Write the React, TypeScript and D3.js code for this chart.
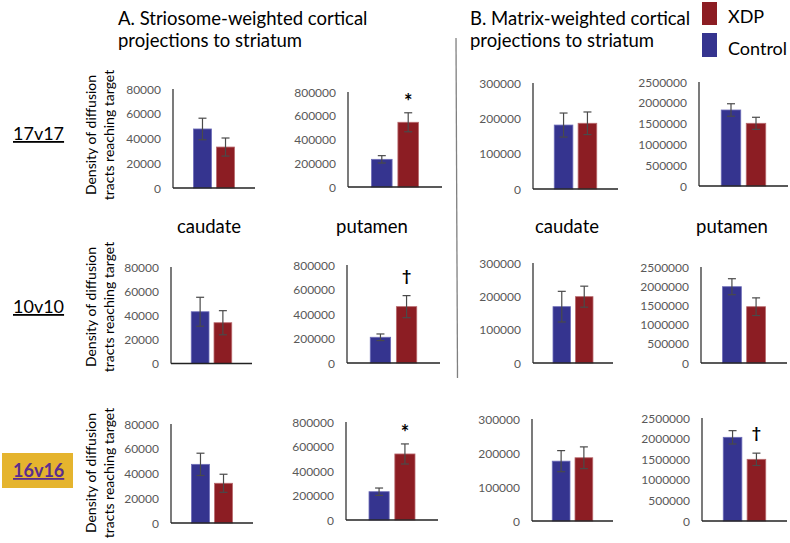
import React from "react";
import * as d3 from "d3";

// ---------- data ----------
const groups = ["Control", "XDP"];
const regionLabels = ["caudate", "putamen"];
const rowLabels = ["17v17", "10v10", "16v16"];

const striosomeCaudateControl = [47700, 42900, 47400];
const striosomeCaudateControlErr = [8700, 12000, 9000];
const striosomeCaudateXDP = [33100, 33800, 32100];
const striosomeCaudateXDPErr = [7300, 10000, 7300];

const striosomePutamenControl = [233000, 210000, 231000];
const striosomePutamenControlErr = [31000, 27000, 30000];
const striosomePutamenXDP = [545000, 460000, 539000];
const striosomePutamenXDPErr = [80000, 90000, 82000];

const matrixCaudateControl = [181000, 169000, 176000];
const matrixCaudateControlErr = [34000, 46000, 31000];
const matrixCaudateXDP = [186000, 199000, 186000];
const matrixCaudateXDPErr = [32000, 31500, 32000];

const matrixPutamenControl = [1827000, 1987000, 2031000];
const matrixPutamenControlErr = [150000, 208000, 162000];
const matrixPutamenXDP = [1507000, 1466000, 1497000];
const matrixPutamenXDPErr = [145000, 230000, 150000];

const striosomeCaudateTicks = [0, 20000, 40000, 60000, 80000];
const striosomePutamenTicks = [0, 200000, 400000, 600000, 800000];
const matrixCaudateTicks = [0, 100000, 200000, 300000];
const matrixPutamenTicks = [0, 500000, 1000000, 1500000, 2000000, 2500000];

// significance marks per row, per panel (A-caudate, A-putamen, B-caudate, B-putamen)
const significance = [
  ["", "*", "", ""],
  ["", "†", "", ""],
  ["", "*", "", "†"],
];

// ---------- layout ----------
const FONT = "Lato, 'Open Sans', sans-serif";
const BLUE = "#35348f";
const RED = "#8c1d23";

// [axisX, axisEndX, topY, zeroY] per row, per column
const panelRects = [
  [
    [173, 255, 89, 188],
    [348, 442, 92, 187],
    [533, 618, 83, 189],
    [699, 788, 82, 186],
  ],
  [
    [171, 252, 267, 363.5],
    [347, 440, 265, 363],
    [533, 613, 263, 363],
    [701, 787, 267, 363],
  ],
  [
    [171, 253, 424, 523],
    [346, 438, 422, 520],
    [532, 613, 419, 521],
    [702, 787, 418, 521],
  ],
];
const rowLabelBaselines = [140, 313, 477];
const yLabelCenters = [135, 307, 473];

type PanelProps = {
  rect: number[];
  ticks: number[];
  values: number[];
  errors: number[];
  mark: string;
};

function Panel({ rect, ticks, values, errors, mark }: PanelProps) {
  const [x0, x1, yTop, y0] = rect;
  const y = d3
    .scaleLinear()
    .domain([0, ticks[ticks.length - 1]])
    .range([y0, yTop]);
  const x = d3
    .scaleBand<string>()
    .domain(groups)
    .range([x0, x1])
    .paddingInner(0.22)
    .paddingOuter(0.89);
  const bw = x.bandwidth();
  const capW = 8;
  return (
    <g>
      {ticks.map((t) => (
        <text
          key={t}
          x={x0 - 12}
          y={y(t)}
          textAnchor="end"
          dominantBaseline="central"
          fontSize={12}
          fill="#595959"
          fontFamily={FONT}
        >
          {t}
        </text>
      ))}
      {groups.map((g, i) => {
        const bx = x(g)!;
        const v = values[i];
        const e = errors[i];
        const cx = bx + bw / 2;
        return (
          <g key={g}>
            <rect
              x={bx}
              y={y(v)}
              width={bw}
              height={y(0) - y(v)}
              fill={i === 0 ? BLUE : RED}
              stroke={i === 0 ? "#6e6db8" : "#b86a6e"}
              strokeWidth={0.8}
            />
            <line x1={cx} x2={cx} y1={y(v - e)} y2={y(v + e)} stroke="#4a4a4a" strokeWidth={1.2} />
            <line x1={cx - capW / 2} x2={cx + capW / 2} y1={y(v + e)} y2={y(v + e)} stroke="#4a4a4a" strokeWidth={1.2} />
            <line x1={cx - capW / 2} x2={cx + capW / 2} y1={y(v - e)} y2={y(v - e)} stroke="#4a4a4a" strokeWidth={1.2} />
          </g>
        );
      })}
      <line x1={x0} x2={x0} y1={yTop} y2={y0} stroke="#333" strokeWidth={1.3} />
      <line x1={x0} x2={x1} y1={y0} y2={y0} stroke="#222" strokeWidth={1.3} />
      {mark && (
        <text
          x={x("XDP")! + bw / 2}
          y={y(values[1] + errors[1]) - (mark === "*" ? 4 : 15)}
          textAnchor="middle"
          fontSize={mark === "*" ? 20 : 16}
          fontWeight="bold"
          fontFamily={FONT}
          fill="#000"
        >
          {mark}
        </text>
      )}
    </g>
  );
}

export default function App() {
  const panelsData = [
    {
      ticks: striosomeCaudateTicks,
      ctrl: striosomeCaudateControl,
      ctrlErr: striosomeCaudateControlErr,
      xdp: striosomeCaudateXDP,
      xdpErr: striosomeCaudateXDPErr,
    },
    {
      ticks: striosomePutamenTicks,
      ctrl: striosomePutamenControl,
      ctrlErr: striosomePutamenControlErr,
      xdp: striosomePutamenXDP,
      xdpErr: striosomePutamenXDPErr,
    },
    {
      ticks: matrixCaudateTicks,
      ctrl: matrixCaudateControl,
      ctrlErr: matrixCaudateControlErr,
      xdp: matrixCaudateXDP,
      xdpErr: matrixCaudateXDPErr,
    },
    {
      ticks: matrixPutamenTicks,
      ctrl: matrixPutamenControl,
      ctrlErr: matrixPutamenControlErr,
      xdp: matrixPutamenXDP,
      xdpErr: matrixPutamenXDPErr,
    },
  ];

  const regionCenters = [209, 372, 567, 732];

  return (
    <svg
      width={790}
      height={543}
      style={{ position: "absolute", left: 0, top: 0, background: "#fff" }}
      fontFamily={FONT}
    >
      <rect width={790} height={543} fill="#fff" />
      {/* titles */}
      <text x={118} y={25} fontSize={18.5} fill="#000">A. Striosome-weighted cortical</text>
      <text x={118} y={47} fontSize={18.5} fill="#000">projections to striatum</text>
      <text x={470} y={25} fontSize={18.5} fill="#000">B. Matrix-weighted cortical</text>
      <text x={470} y={47} fontSize={18.5} fill="#000">projections to striatum</text>

      {/* legend */}
      <rect x={702} y={2} width={15} height={23} fill={RED} />
      <text x={728} y={23} fontSize={18} fill="#000">XDP</text>
      <rect x={702} y={33} width={15} height={24} fill={BLUE} />
      <text x={728} y={55} fontSize={18} fill="#000">Control</text>

      {/* divider */}
      <line x1={456} y1={38} x2={457.5} y2={378} stroke="#808080" strokeWidth={1.3} />

      {/* region labels between rows 1 and 2 */}
      {regionCenters.map((cx, i) => (
        <text key={i} x={cx} y={233} textAnchor="middle" fontSize={18.5} fill="#000">
          {regionLabels[i % 2]}
        </text>
      ))}

      {/* row labels */}
      <rect x={2} y={453} width={71} height={35} fill="#e5b42e" />
      {rowLabels.map((lab, r) => (
        <text
          key={lab}
          x={13}
          y={rowLabelBaselines[r]}
          fontSize={18}
          fill={r === 2 ? "#5a2d8e" : "#000"}
          fontWeight={r === 2 ? "bold" : "normal"}
          style={{ textDecoration: "underline" }}
        >
          {lab}
        </text>
      ))}

      {/* y-axis labels */}
      {yLabelCenters.map((cy, r) => (
        <g key={r} transform={`translate(96, ${cy}) rotate(-90)`}>
          <text x={0} y={0} textAnchor="middle" fontSize={14} fill="#000">
            Density of diffusion
          </text>
          <text x={0} y={18} textAnchor="middle" fontSize={14} fill="#000">
            tracts reaching target
          </text>
        </g>
      ))}

      {/* panels */}
      {panelRects.map((row, r) =>
        row.map((rect, c) => {
          const d = panelsData[c];
          return (
            <Panel
              key={`${r}-${c}`}
              rect={rect}
              ticks={d.ticks}
              values={[d.ctrl[r], d.xdp[r]]}
              errors={[d.ctrlErr[r], d.xdpErr[r]]}
              mark={significance[r][c]}
            />
          );
        })
      )}
    </svg>
  );
}
